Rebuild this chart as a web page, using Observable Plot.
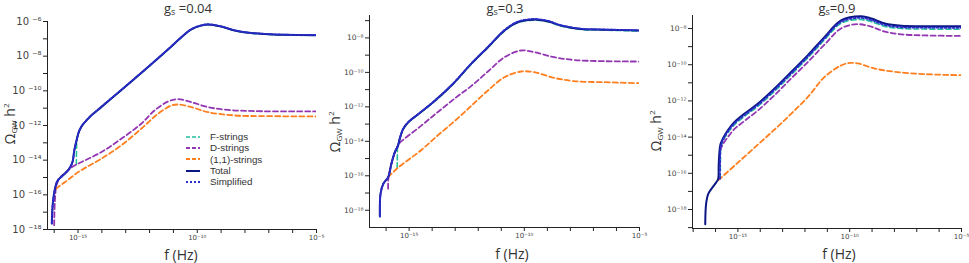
<!DOCTYPE html>
<html>
<head>
<meta charset="utf-8">
<script src="https://cdn.jsdelivr.net/npm/d3@7"></script>
<script src="https://cdn.jsdelivr.net/npm/@observablehq/plot@0.6"></script>
<style>
  body { margin: 0; background: #fff; }
  #wrap { position: relative; width: 969px; height: 263px; overflow: hidden; background: #fff; }
  .pnl { position: absolute; top: 0; }
  .ttl { position: absolute; transform: translateX(-50%); font: 13px "Open Sans", sans-serif; color: #333; white-space: nowrap; line-height: 15px; }
  .ttl sub { font-size: 9px; vertical-align: -2px; line-height: 0; }
  .ylab { position: absolute; transform: translate(-50%, -50%) rotate(-90deg); font: 14px "Open Sans", sans-serif; color: #333; white-space: nowrap; }
  .ylab sub { font-size: 8px; vertical-align: -2px; }
  .ylab sup { font-size: 8px; vertical-align: 6px; }
  .xlab { position: absolute; transform: translate(-50%, -50%); font: 14px "Open Sans", sans-serif; color: #333; white-space: nowrap; }
  .leg { position: absolute; left: 186px; top: 131px; font: 9.8px "Liberation Sans", sans-serif; color: #333; }
  .leg div { height: 11.3px; line-height: 11.3px; display: flex; align-items: center; white-space: nowrap; }
  .leg svg { width: 14px; height: 6px; margin-right: 10px; }
</style>
</head>
<body>
<div id="wrap"></div>
<script>
// ---- tick values (log10 exponents) ----
const xTicks1 = [-16,-15,-14,-13,-12,-11,-10,-9,-8,-7,-6,-5];
const xTicks2 = [-16,-15,-14,-13,-12,-11,-10,-9,-8,-7,-6,-5];
const xTicks3 = [-17,-16,-15,-14,-13,-12,-11,-10,-9,-8,-7,-6,-5];
const xLabelExps = [-15,-10,-5];
const yTicks1 = [-18,-17,-16,-15,-14,-13,-12,-11,-10,-9,-8,-7,-6];
const yTicks2 = [-18,-17,-16,-15,-14,-13,-12,-11,-10,-9,-8,-7];
const yTicks3 = [-19,-18,-17,-16,-15,-14,-13,-12,-11,-10,-9,-8];
const titles = ["0.04", "0.3", "0.9"];
const seriesNames = ["F-strings", "D-strings", "(1,1)-strings", "Total", "Simplified"];

// ---- series: [log10 f, log10 Omega h^2] ----
// panel 1: g_s = 0.04
const p1F = [[-15.07,-14.25],[-15.06,-13.2],[-15.05,-12.82],[-14.95,-12.33],[-14.81,-11.98],[-14.65,-11.72],[-14.52,-11.53],[-14.03,-10.95],[-13.33,-10.13],[-12.63,-9.31],[-11.93,-8.48],[-11.23,-7.63],[-10.70,-6.96],[-10.25,-6.46],[-9.85,-6.25],[-9.55,-6.18],[-8.99,-6.30],[-8.43,-6.53],[-7.73,-6.68],[-7.03,-6.74],[-6.33,-6.78],[-5.0,-6.80]];
const p1D = [[-16.00,-17.75],[-15.97,-16.35],[-15.89,-15.38],[-15.72,-14.96],[-15.44,-14.62],[-15.20,-14.35],[-14.87,-14.12],[-14.03,-13.54],[-13.19,-12.77],[-12.35,-11.90],[-11.79,-11.13],[-11.23,-10.62],[-10.81,-10.48],[-10.25,-10.65],[-9.55,-10.94],[-8.71,-11.10],[-7.59,-11.17],[-5.0,-11.19]];
const p1O = [[-15.93,-15.65],[-15.50,-15.22],[-15.16,-14.86],[-14.87,-14.58],[-14.03,-13.92],[-13.19,-13.15],[-12.35,-12.19],[-11.65,-11.33],[-11.09,-10.85],[-10.81,-10.79],[-10.25,-10.94],[-9.55,-11.23],[-8.43,-11.42],[-7.03,-11.46],[-5.0,-11.48]];
const p1T = [[-16.10,-17.65],[-16.06,-16.54],[-15.97,-15.67],[-15.86,-15.19],[-15.65,-14.90],[-15.44,-14.62],[-15.30,-14.33],[-15.22,-14.05],[-15.16,-13.46],[-15.05,-12.79],[-14.95,-12.31],[-14.81,-11.96],[-14.65,-11.71],[-14.52,-11.52],[-14.03,-10.94],[-13.33,-10.12],[-12.63,-9.30],[-11.93,-8.47],[-11.23,-7.62],[-10.70,-6.95],[-10.25,-6.45],[-9.85,-6.24],[-9.55,-6.17],[-8.99,-6.29],[-8.43,-6.52],[-7.73,-6.67],[-7.03,-6.73],[-6.33,-6.77],[-5.0,-6.79]];
const p1S = [[-16.10,-17.65],[-16.06,-16.54],[-15.97,-15.67],[-15.86,-15.19],[-15.65,-14.90],[-15.44,-14.62],[-15.30,-14.33],[-15.22,-14.05],[-15.16,-13.46],[-15.05,-12.79],[-14.95,-12.31],[-14.81,-11.96],[-14.65,-11.71],[-14.52,-11.52],[-14.03,-10.93],[-13.33,-10.11],[-12.63,-9.29],[-11.93,-8.46],[-11.23,-7.61],[-10.70,-6.94],[-10.25,-6.44],[-9.85,-6.23],[-9.55,-6.16],[-8.99,-6.28],[-8.43,-6.51],[-7.73,-6.66],[-7.03,-6.72],[-6.33,-6.76],[-5.0,-6.78]];

// panel 2: g_s = 0.3
const p2F = [[-15.52,-15.54],[-15.51,-14.8],[-15.50,-14.3],[-15.41,-13.9],[-15.26,-13.31],[-15.04,-12.92],[-14.68,-12.53],[-13.96,-11.76],[-13.10,-10.70],[-12.31,-9.54],[-11.58,-8.57],[-10.86,-7.60],[-10.29,-7.12],[-9.64,-6.97],[-8.99,-7.06],[-8.42,-7.31],[-7.55,-7.51],[-6.54,-7.55],[-5.0,-7.60]];
const p2D = [[-15.91,-16.75],[-15.90,-16.15],[-15.77,-15.32],[-15.62,-14.65],[-15.48,-14.26],[-15.45,-14.15],[-14.50,-13.12],[-13.75,-12.30],[-12.96,-11.45],[-12.31,-10.80],[-11.58,-9.95],[-10.86,-9.12],[-10.14,-8.73],[-9.57,-8.83],[-8.70,-9.12],[-7.84,-9.28],[-6.54,-9.35],[-5.0,-9.37]];
const p2O = [[-15.91,-16.08],[-15.51,-15.56],[-14.47,-14.50],[-13.75,-13.65],[-12.96,-12.75],[-12.31,-11.95],[-11.58,-11.05],[-10.86,-10.28],[-10.14,-9.95],[-9.57,-9.99],[-8.70,-10.32],[-7.84,-10.51],[-6.54,-10.57],[-5.0,-10.63]];
const p2T = [[-16.27,-18.36],[-16.24,-17.04],[-16.12,-16.46],[-15.91,-16.08],[-15.77,-15.30],[-15.62,-14.63],[-15.48,-14.24],[-15.41,-13.86],[-15.26,-13.28],[-15.04,-12.89],[-14.68,-12.50],[-13.96,-11.73],[-13.10,-10.67],[-12.31,-9.51],[-11.58,-8.54],[-10.86,-7.57],[-10.29,-7.09],[-9.64,-6.94],[-8.99,-7.03],[-8.42,-7.28],[-7.55,-7.48],[-6.54,-7.52],[-5.0,-7.57]];
const p2S = [[-16.27,-18.36],[-16.24,-17.04],[-16.12,-16.46],[-15.91,-16.08],[-15.77,-15.30],[-15.62,-14.63],[-15.48,-14.24],[-15.41,-13.86],[-15.26,-13.28],[-15.04,-12.89],[-14.68,-12.50],[-13.96,-11.72],[-13.10,-10.66],[-12.31,-9.50],[-11.58,-8.52],[-10.86,-7.54],[-10.29,-7.06],[-9.64,-6.90],[-8.99,-7.00],[-8.42,-7.26],[-7.55,-7.46],[-6.54,-7.51],[-5.0,-7.56]];

// panel 3: g_s = 0.9
const p3F = [[-15.79,-16.3],[-15.78,-15.2],[-15.77,-14.7],[-15.67,-14.22],[-15.45,-13.77],[-15.15,-13.31],[-14.70,-12.85],[-14.10,-12.29],[-13.36,-11.46],[-12.61,-10.54],[-11.87,-9.62],[-11.12,-8.61],[-10.37,-7.70],[-9.55,-7.50],[-9.03,-7.62],[-8.43,-7.88],[-7.69,-8.00],[-6.64,-8.03],[-5.0,-8.04]];
const p3D = [[-15.81,-15.6],[-15.79,-14.75],[-15.67,-14.40],[-15.45,-14.00],[-15.15,-13.55],[-14.70,-13.10],[-14.10,-12.52],[-13.36,-11.68],[-12.61,-10.75],[-11.87,-9.85],[-11.12,-8.88],[-10.37,-7.98],[-9.63,-7.76],[-9.03,-7.90],[-8.43,-8.17],[-7.69,-8.32],[-6.64,-8.38],[-5.0,-8.41]];
const p3O = [[-15.87,-16.38],[-15.00,-15.41],[-14.10,-14.41],[-13.36,-13.58],[-12.61,-12.70],[-11.87,-11.78],[-11.12,-10.67],[-10.37,-10.03],[-10.00,-9.90],[-9.63,-9.93],[-8.88,-10.21],[-7.99,-10.39],[-6.64,-10.52],[-5.0,-10.58]];
const p3T = [[-16.46,-18.81],[-16.42,-17.67],[-16.32,-17.12],[-16.12,-16.75],[-15.97,-16.50],[-15.88,-16.30],[-15.86,-15.60],[-15.83,-14.90],[-15.78,-14.40],[-15.67,-14.08],[-15.45,-13.62],[-15.15,-13.16],[-14.70,-12.70],[-14.10,-12.14],[-13.36,-11.31],[-12.61,-10.39],[-11.87,-9.47],[-11.12,-8.46],[-10.37,-7.54],[-9.48,-7.32],[-9.03,-7.45],[-8.43,-7.72],[-7.69,-7.85],[-6.64,-7.87],[-5.0,-7.87]];
const p3S = [[-15.80,-16.3],[-15.79,-15.0],[-15.77,-14.55],[-15.67,-14.16],[-15.45,-13.70],[-15.15,-13.24],[-14.70,-12.78],[-14.10,-12.22],[-13.36,-11.39],[-12.61,-10.47],[-11.87,-9.55],[-11.12,-8.54],[-10.37,-7.62],[-9.50,-7.41],[-9.03,-7.54],[-8.43,-7.80],[-7.69,-7.93],[-6.64,-7.95],[-5.0,-7.96]];

// ---- styles ----
const styles = [
  {stroke: "#22c09c", strokeWidth: 1.6, strokeDasharray: "5,3"},
  {stroke: "#9236b2", strokeWidth: 1.8, strokeDasharray: "5,3"},
  {stroke: "#ff7f1e", strokeWidth: 1.8, strokeDasharray: "5,3"},
  {stroke: "#0b1782", strokeWidth: 2.0},
  {stroke: "#2c2ccc", strokeWidth: 1.8, strokeDasharray: "2,2"}
];

const supMap = {"-":"\u207B","0":"\u2070","1":"\u00B9","2":"\u00B2","3":"\u00B3","4":"\u2074","5":"\u2075","6":"\u2076","7":"\u2077","8":"\u2078","9":"\u2079"};
const sup = e => String(e).split("").map(c => supMap[c]).join("");
const P = e => Math.pow(10, e);

const panels = [
  {left: 0, width: 320, ml: 47, mr: 4, mt: 21, mb: 34, xmin: -16.28, ymin: -18, ymax: -6,
   xT: xTicks1, yT: yTicks1, yFont: 10, ySep: " ", series: [p1F, p1D, p1O, p1T, p1S]},
  {left: 320, width: 320, ml: 49, mr: 1, mt: 15, mb: 36, xmin: -16.72, ymin: -19, ymax: -6.7,
   xT: xTicks2, yT: yTicks2, yFont: 7.5, ySep: "", series: [p2F, p2D, p2O, p2T, p2S]},
  {left: 640, width: 329, ml: 52, mr: 8, mt: 15, mb: 35, xmin: -17.03, ymin: -19.05, ymax: -7.28,
   xT: xTicks3, yT: yTicks3, yFont: 7.5, ySep: "", series: [p3F, p3D, p3O, p3T, p3S]}
];

const wrap = document.getElementById("wrap");

panels.forEach((p, i) => {
  const marks = [
    Plot.axisX(p.xT.map(P), {
      tickSize: 4, tickPadding: 2, fontSize: 7, stroke: "#222",
      tickFormat: d => { const e = Math.round(Math.log10(d)); return xLabelExps.includes(e) ? "10" + sup(e) : ""; }
    }),
    Plot.axisY(p.yT.map(P), {
      tickSize: 4, tickPadding: 2, fontSize: p.yFont, stroke: "#222",
      tickFormat: d => { const e = Math.round(Math.log10(d)); return e % 2 === 0 ? "10" + p.ySep + sup(e) : ""; }
    }),
    Plot.ruleY([P(p.ymin)], {stroke: "#222", strokeWidth: 1}),
    Plot.ruleX([P(p.xmin)], {stroke: "#222", strokeWidth: 1})
  ];
  p.series.forEach((s, k) => {
    marks.push(Plot.line(s, {x: d => P(d[0]), y: d => P(d[1]), curve: "catmull-rom", clip: true, ...styles[k]}));
  });
  const svg = Plot.plot({
    width: p.width, height: 263,
    marginLeft: p.ml, marginRight: p.mr, marginTop: p.mt, marginBottom: p.mb,
    x: {type: "log", domain: [P(p.xmin), P(-5)], label: null},
    y: {type: "log", domain: [P(p.ymin), P(p.ymax)], label: null},
    style: {overflow: "visible", background: "transparent", fontFamily: "'DejaVu Sans', sans-serif", color: "#444"},
    marks
  });
  const d = document.createElement("div");
  d.className = "pnl";
  d.style.left = p.left + "px";
  d.appendChild(svg);
  wrap.appendChild(d);
});

// ---- text overlays ----
const titlePos = [[188, 1], [505, 1], [837, 1]];
titlePos.forEach((t, i) => {
  const el = document.createElement("div");
  el.className = "ttl";
  el.style.left = t[0] + "px"; el.style.top = t[1] + "px";
  el.innerHTML = "g<sub>s</sub>" + (i === 0 ? " =" : "=") + titles[i];
  wrap.appendChild(el);
});
const ylabPos = [[9, 124], [334, 132], [655, 131]];
ylabPos.forEach(t => {
  const el = document.createElement("div");
  el.className = "ylab";
  el.style.left = t[0] + "px"; el.style.top = t[1] + "px";
  el.innerHTML = "\u03A9<sub>GW</sub> h<sup>2</sup>";
  wrap.appendChild(el);
});
const xlabPos = [[181, 254], [512, 253], [839, 253]];
xlabPos.forEach(t => {
  const el = document.createElement("div");
  el.className = "xlab";
  el.style.left = t[0] + "px"; el.style.top = t[1] + "px";
  el.textContent = "f (Hz)";
  wrap.appendChild(el);
});

// ---- legend ----
const leg = document.createElement("div");
leg.className = "leg";
seriesNames.forEach((name, k) => {
  const row = document.createElement("div");
  const st = styles[k];
  row.innerHTML = `<svg viewBox="0 0 14 6"><line x1="0" y1="3" x2="14" y2="3" stroke="${st.stroke}" stroke-width="${st.strokeWidth}" ${st.strokeDasharray ? `stroke-dasharray="${k === 4 ? "2,2" : "4,2"}"` : ""}/></svg><span>${name}</span>`;
  leg.appendChild(row);
});
wrap.appendChild(leg);
</script>
</body>
</html>
